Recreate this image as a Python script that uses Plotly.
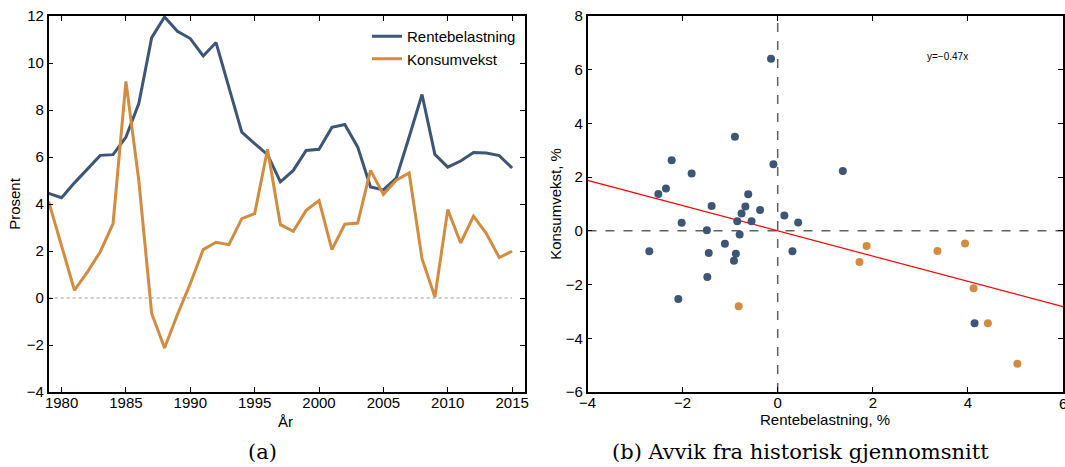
import plotly.graph_objects as go

years = list(range(1979, 2016))
rentebelastning = [4.45, 4.27, 4.9, 5.5, 6.07, 6.1, 6.85, 8.27, 11.08, 11.96, 11.35, 11.04, 10.3, 10.87,
                   8.98, 7.06, 6.57, 6.1, 4.94, 5.43, 6.28, 6.33, 7.26, 7.38, 6.43, 4.72, 4.6, 5.1,
                   6.85, 8.66, 6.11, 5.57, 5.83, 6.19, 6.17, 6.06, 5.53]
konsumvekst = [4.1, 2.17, 0.33, 1.1, 1.96, 3.17, 9.22, 5.0, -0.66, -2.13, -0.7, 0.61, 2.06, 2.37,
               2.27, 3.38, 3.59, 6.33, 3.12, 2.84, 3.73, 4.15, 2.06, 3.14, 3.19, 5.43, 4.41, 5.01,
               5.32, 1.67, 0.04, 3.76, 2.34, 3.48, 2.74, 1.72, 1.99]
zero_line = [0] * len(years)

blue_x = [-0.14, -0.90, -0.09, -2.23, -1.81, -2.51, -2.35, -1.39, -0.62, -0.68, -0.37, -0.76, 0.14,
          0.43, -2.02, -0.85, -0.55, -1.49, 1.37, -0.80, -1.11, -2.70, -1.45, -0.88, 0.31, -0.92,
          -1.48, -2.09, 4.14]
blue_y = [6.41, 3.50, 2.48, 2.63, 2.14, 1.37, 1.58, 0.93, 1.36, 0.91, 0.78, 0.65, 0.57, 0.31, 0.30,
          0.36, 0.36, 0.02, 2.23, -0.14, -0.48, -0.76, -0.82, -0.85, -0.76, -1.11, -1.72, -2.54, -3.44]
orange_x = [-0.82, 1.87, 1.72, 3.36, 3.94, 4.12, 4.42, 5.04]
orange_y = [-2.81, -0.56, -1.16, -0.75, -0.47, -2.14, -3.44, -4.95]
slope = -0.47
fit_x = [-4, 6]
fit_y = [slope * v for v in fit_x]
x2_max_label = "6"

BLUE = "#3d5676"
ORANGE = "#d28c40"
FONT = "Liberation Sans"

fig = go.Figure()
fig.add_trace(go.Scatter(x=years, y=zero_line, mode="lines", showlegend=False,
                         line=dict(color="#9a9a9a", width=1, dash="dot"), xaxis="x", yaxis="y"))
fig.add_trace(go.Scatter(x=years, y=rentebelastning, mode="lines", name="Rentebelastning",
                         line=dict(color=BLUE, width=3), xaxis="x", yaxis="y"))
fig.add_trace(go.Scatter(x=years, y=konsumvekst, mode="lines", name="Konsumvekst",
                         line=dict(color=ORANGE, width=3), xaxis="x", yaxis="y"))

fig.add_trace(go.Scatter(x=fit_x, y=fit_y, mode="lines", showlegend=False,
                         line=dict(color="#ff0000", width=1.2), xaxis="x2", yaxis="y2"))
fig.add_trace(go.Scatter(x=blue_x, y=blue_y, mode="markers", showlegend=False,
                         marker=dict(color=BLUE, size=8), xaxis="x2", yaxis="y2"))
fig.add_trace(go.Scatter(x=orange_x, y=orange_y, mode="markers", showlegend=False,
                         marker=dict(color=ORANGE, size=8), xaxis="x2", yaxis="y2"))

axis_common = dict(showline=True, linecolor="black", linewidth=1.5, mirror="ticks",
                   ticks="inside", ticklen=5, tickcolor="black", tickwidth=1,
                   showgrid=False, zeroline=False, automargin=False,
                   tickfont=dict(family=FONT, size=15, color="black"))

y_dom = [1 - 392 / 467, 1 - 16 / 467]

fig.update_layout(
    width=1065, height=467,
    margin=dict(l=0, r=0, t=0, b=0, autoexpand=False),
    paper_bgcolor="white", plot_bgcolor="white",
    font=dict(family=FONT, size=15, color="black"),
    xaxis=dict(domain=[48.7 / 1065, 525 / 1065], range=[1979, 2016], dtick=5, tick0=1980,
               ticklabelstandoff=-4, **axis_common),
    yaxis=dict(domain=y_dom, range=[-4, 12], dtick=2, anchor="x",
               title=dict(text="Prosent", font=dict(size=15), standoff=3), **axis_common),
    xaxis2=dict(domain=[587.5 / 1065, 1063 / 1065], range=[-4, 6], dtick=2, anchor="y2",
                ticklabelstandoff=-4, **axis_common),
    yaxis2=dict(domain=y_dom, range=[-6, 8], dtick=2, anchor="x2",
                title=dict(text="Konsumvekst, %", font=dict(size=15), standoff=0), **axis_common),
    legend=dict(x=521 / 1065, y=1 - 20 / 467, xanchor="right", yanchor="top",
                bgcolor="rgba(0,0,0,0)", font=dict(family=FONT, size=15),
                tracegroupgap=0, itemwidth=30),
    shapes=[
        dict(type="line", xref="x2", yref="y2", x0=0, x1=0, y0=-6, y1=8,
             line=dict(color="#606060", width=1.5, dash="dash"), layer="below"),
        dict(type="line", xref="x2", yref="y2", x0=-4, x1=6, y0=0, y1=0,
             line=dict(color="#606060", width=1.5, dash="dash"), layer="below"),
    ],
    annotations=[
        dict(text=x2_max_label, xref="x2", yref="paper", x=6, xanchor="center",
             y=1 - 403 / 467, yanchor="middle", showarrow=False,
             font=dict(family=FONT, size=15, color="black")),
        dict(text="År", xref="paper", yref="paper", x=285 / 1065, xanchor="center",
             y=1 - 421 / 467, yanchor="middle", showarrow=False,
             font=dict(family=FONT, size=15, color="black")),
        dict(text="Rentebelastning, %", xref="paper", yref="paper", x=825 / 1065,
             xanchor="center", y=1 - 419 / 467, yanchor="middle", showarrow=False,
             font=dict(family=FONT, size=15, color="black")),
        dict(text="y=−0.47x", xref="x2", yref="y2", x=3.57, y=6.49, showarrow=False,
             xanchor="center", font=dict(family=FONT, size=10, color="black")),
        dict(text="(a)", xref="paper", yref="paper", x=262 / 1065, xanchor="center",
             y=1 - 452 / 467, yanchor="middle", showarrow=False,
             font=dict(family="DejaVu Serif", size=21, color="black")),
        dict(text="(b) Avvik fra historisk gjennomsnitt", xref="paper", yref="paper",
             x=800 / 1065, xanchor="center", y=1 - 452 / 467, yanchor="middle",
             showarrow=False, font=dict(family="DejaVu Serif", size=21, color="black")),
    ],
)

fig.write_html("out.html")
